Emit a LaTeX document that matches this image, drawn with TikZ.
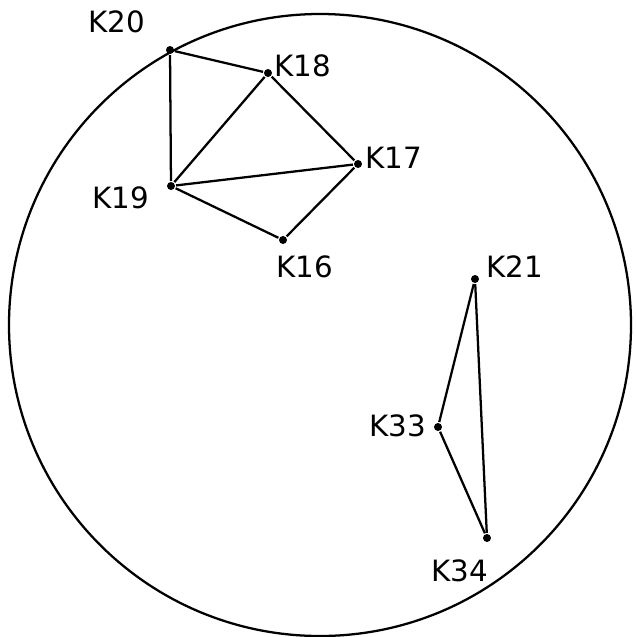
\documentclass[tikz,border=0pt]{standalone}
\usepackage{fontspec}
\setsansfont{DejaVu Sans}

\begin{document}
\begin{tikzpicture}[x=0.75pt,y=-0.75pt,line width=1.7pt,
	pt/.style={circle,fill,inner sep=0pt,minimum size=6pt},
	lbl/.style={font=\sffamily\fontsize{22}{26}\selectfont}]
\useasboundingbox (0,0) rectangle (636,637);
\draw (320,325) circle (311);
% points
\node[pt] (k20) at (170,50) {};
\node[pt] (k18) at (268,73) {};
\node[pt] (k17) at (358,164) {};
\node[pt] (k19) at (171,186) {};
\node[pt] (k16) at (283,240) {};
\node[pt] (k21) at (475,279) {};
\node[pt] (k33) at (438,427) {};
\node[pt] (k34) at (487,538) {};
% labels
\node[lbl] (l20) at (117,22) {K20};
\node[lbl] (l18) at (303,66) {K18};
\node[lbl] (l17) at (394,158) {K17};
\node[lbl] (l19) at (121,198) {K19};
\node[lbl] (l16) at (305,267) {K16};
\node[lbl] (l21) at (515,267) {K21};
\node[lbl] (l33) at (398,426) {K33};
\node[lbl] (l34) at (460,571) {K34};
% edges
\draw (k20) -- (k18);
\draw (k20) -- (k19);
\draw (k18) -- (k19);
\draw (k18) -- (k17);
\draw (k19) -- (k17);
\draw (k19) -- (k16);
\draw (k16) -- (k17);
\draw (k21) -- (k33);
\draw (k21) -- (k34);
\draw (k33) -- (k34);
\end{tikzpicture}
\end{document}
